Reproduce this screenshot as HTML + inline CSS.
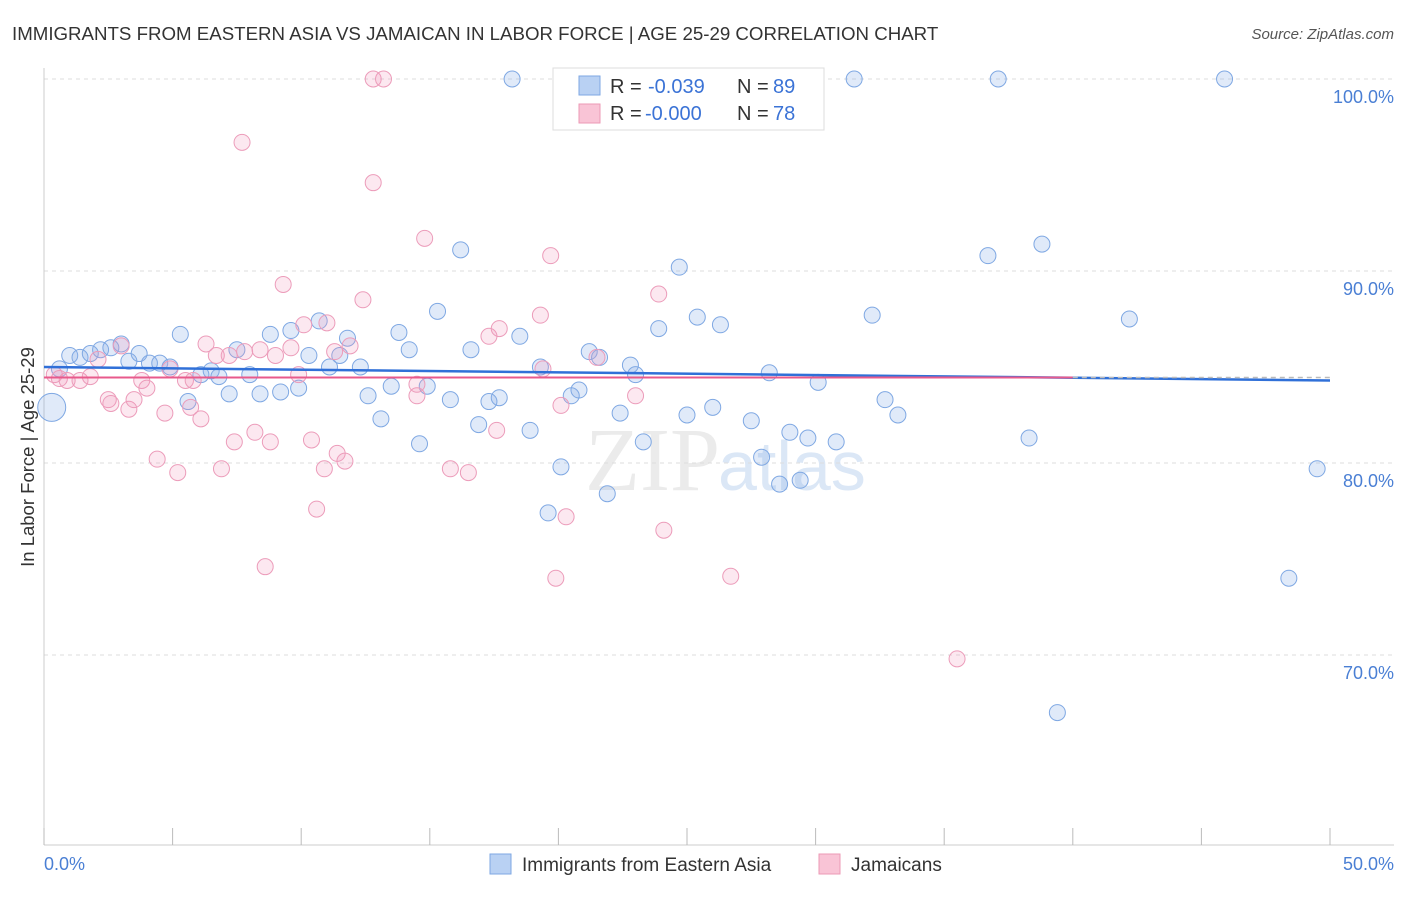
<!DOCTYPE html>
<html><head><meta charset="utf-8"><style>
body{margin:0;background:#fff;font-family:"Liberation Sans",sans-serif}
</style></head><body>
<svg width="1406" height="892" xmlns="http://www.w3.org/2000/svg" id="chart">
<text x="12" y="40" font-size="18.7" fill="#333">IMMIGRANTS FROM EASTERN ASIA VS JAMAICAN IN LABOR FORCE | AGE 25-29 CORRELATION CHART</text>
<text x="1394" y="39" font-size="15" fill="#555" text-anchor="end" font-style="italic">Source: ZipAtlas.com</text>
<text x="720" y="490" font-size="90" fill="#ebebeb" text-anchor="end" font-family="Liberation Serif">ZIP</text>
<text x="718" y="490" font-size="70" fill="#dbe7f6">atlas</text>
<g id="grid"></g>
<g id="marks"></g>
<text transform="translate(34,457) rotate(-90)" font-size="18.5" fill="#333" text-anchor="middle">In Labor Force | Age 25-29</text>
<text x="44" y="870" font-size="18" fill="#4a7fd4">0.0%</text>
<text x="1394" y="870" font-size="18" fill="#4a7fd4" text-anchor="end">50.0%</text>
<rect x="553" y="68" width="271" height="62" fill="#fff" stroke="#ddd"/>
<rect x="579" y="76" width="21" height="19" fill="#b9d1f3" stroke="#7ea7e3"/>
<rect x="579" y="104" width="21" height="19" fill="#f9c4d6" stroke="#ec9ab6"/>
<g font-size="20" fill="#333">
<text x="610" y="93">R =</text>
<text x="648" y="93" fill="#3b73d6">-0.039</text>
<text x="737" y="93">N =</text>
<text x="773" y="93" fill="#3b73d6">89</text>
<text x="610" y="120">R =</text>
<text x="645" y="120" fill="#3b73d6">-0.000</text>
<text x="737" y="120">N =</text>
<text x="773" y="120" fill="#3b73d6">78</text>
</g>
<rect x="490" y="854" width="21" height="20" fill="#b9d1f3" stroke="#7ea7e3"/>
<text x="522" y="871" font-size="19" fill="#333">Immigrants from Eastern Asia</text>
<rect x="819" y="854" width="21" height="20" fill="#f9c4d6" stroke="#ec9ab6"/>
<text x="851" y="871" font-size="19" fill="#333">Jamaicans</text>
</svg>
<script>
const yTicks=[100,90,80,70];
const xTicks=[0,5,10,15,20,25,30,35,40,45,50];
const blueX=[0.3,1.0,0.6,1.4,1.8,2.2,2.6,3.0,3.3,3.7,4.1,4.5,4.9,5.3,5.6,6.1,6.5,6.8,7.2,7.5,8.0,8.4,8.8,9.2,9.6,9.9,10.3,10.7,11.1,11.5,11.8,12.3,12.6,13.1,13.5,13.8,14.2,14.6,14.9,15.3,15.8,16.2,16.6,16.9,17.3,17.7,18.2,18.5,18.9,19.3,19.6,20.1,20.5,20.8,21.2,21.6,21.9,22.4,22.8,23.0,23.3,23.9,24.7,25.0,25.4,26.0,26.3,27.5,27.9,28.2,28.6,29.0,29.4,29.7,30.1,30.8,31.5,32.2,32.7,33.2,36.7,37.1,38.3,38.8,39.4,42.2,45.9,48.4,49.5];
const blueY=[82.9,85.6,84.9,85.5,85.7,85.9,86.0,86.2,85.3,85.7,85.2,85.2,85.0,86.7,83.2,84.6,84.8,84.5,83.6,85.9,84.6,83.6,86.7,83.7,86.9,83.9,85.6,87.4,85.0,85.6,86.5,85.0,83.5,82.3,84.0,86.8,85.9,81.0,84.0,87.9,83.3,91.1,85.9,82.0,83.2,83.4,100.0,86.6,81.7,85.0,77.4,79.8,83.5,83.8,85.8,85.5,78.4,82.6,85.1,84.6,81.1,87.0,90.2,82.5,87.6,82.9,87.2,82.2,80.3,84.7,78.9,81.6,79.1,81.3,84.2,81.1,100.0,87.7,83.3,82.5,90.8,100.0,81.3,91.4,67.0,87.5,100.0,74.0,79.7];
const pinkX=[0.4,0.6,0.9,1.4,1.8,2.1,2.5,2.6,3.0,3.3,3.5,3.8,4.0,4.4,4.7,4.9,5.2,5.5,5.7,5.8,6.1,6.3,6.7,6.9,7.2,7.4,7.7,7.8,8.2,8.4,8.6,8.8,9.0,9.3,9.6,9.9,10.1,10.4,10.6,10.9,11.0,11.3,11.4,11.7,11.9,12.4,12.8,12.8,13.2,14.5,14.5,14.8,15.8,16.5,17.6,17.3,17.7,19.3,19.4,19.7,19.9,20.1,20.3,21.5,23.0,23.9,24.1,26.7,35.5];
const pinkY=[84.6,84.4,84.3,84.3,84.5,85.4,83.3,83.1,86.1,82.8,83.3,84.3,83.9,80.2,82.6,84.9,79.5,84.3,82.9,84.3,82.3,86.2,85.6,79.7,85.6,81.1,96.7,85.8,81.6,85.9,74.6,81.1,85.6,89.3,86.0,84.6,87.2,81.2,77.6,79.7,87.3,85.8,80.5,80.1,86.1,88.5,94.6,100.0,100.0,83.5,84.1,91.7,79.7,79.5,81.7,86.6,87.0,87.7,84.9,90.8,74.0,83.0,77.2,85.5,83.5,88.8,76.5,74.1,69.8];
const X0=44,X1=1330,Y100=79,PX10=192;
const xs=v=>X0+(X1-X0)*v/50;
const ys=v=>Y100+(100-v)*PX10/10;
const NS="http://www.w3.org/2000/svg";
const grid=document.getElementById('grid'),marks=document.getElementById('marks');
function mk(tag,attrs,parent){const e=document.createElementNS(NS,tag);for(const k in attrs)e.setAttribute(k,attrs[k]);parent.appendChild(e);return e;}
yTicks.forEach(t=>{
 const l=mk('line',{x1:X0,x2:1394,y1:ys(t),y2:ys(t),stroke:'#ddd','stroke-dasharray':'4,4'},grid);
 
 
 const tx=mk('text',{x:1394,y:ys(t)+24,'font-size':18,fill:'#4a7fd4','text-anchor':'end'},grid);
 tx.textContent=t.toFixed(1)+'%';
 
 
});
const ax=mk('line',{x1:X0,x2:1394,y1:845,y2:845,stroke:'#ccc'},grid);


const ay=mk('line',{x1:X0,x2:X0,y1:68,y2:845,stroke:'#ccc'},grid);


xTicks.forEach(t=>{
 const l=mk('line',{x1:xs(t),x2:xs(t),y1:828,y2:845,stroke:'#bbb'},grid);
 
 
});
blueX.forEach((v,i)=>{
 const c=mk('circle',{cx:xs(v),cy:ys(blueY[i]),r:i==0?14:8,fill:'rgba(130,172,232,0.25)',stroke:'#7fa8e3','stroke-width':1},marks);
 
 
});
pinkX.forEach((v,i)=>{
 const c=mk('circle',{cx:xs(v),cy:ys(pinkY[i]),r:8,fill:'rgba(242,150,185,0.22)',stroke:'#ec9cba','stroke-width':1},marks);
 
 
});
const tb=mk('line',{x1:xs(0),x2:xs(50),y1:ys(85.0),y2:ys(84.3),stroke:'#3070d8','stroke-width':2.5},marks);


const tp=mk('line',{x1:xs(0),x2:xs(40),y1:ys(84.45),y2:ys(84.45),stroke:'#e85a8c','stroke-width':2},marks);


const td=mk('line',{x1:xs(40),x2:xs(50),y1:ys(84.45),y2:ys(84.45),stroke:'#bbb','stroke-width':1.5,'stroke-dasharray':'5,4'},marks);


</script>
</body></html>
